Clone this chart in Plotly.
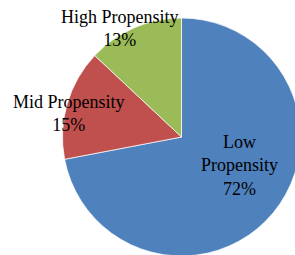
import plotly.graph_objects as go

labels = ["Low Propensity", "Mid Propensity", "High Propensity"]
values = [72, 15, 13]
colors = ["#4F81BD", "#C0504D", "#9BBB59"]
label_text = ["Low<br>Propensity", "Mid Propensity", "High Propensity"]

W, H = 302, 257

fig = go.Figure(go.Pie(
    labels=labels,
    values=values,
    sort=False,
    direction="clockwise",
    rotation=0,
    marker=dict(colors=colors, line=dict(color="white", width=0.7)),
    textinfo="none",
    hoverinfo="label+percent",
    showlegend=False,
    domain=dict(x=[62.5 / W, 300.5 / W], y=[1 / H, 239 / H]),
))

total = sum(values)
label_pos = [(240, 165), (69, 113.5), (120, 28.5)]
for txt, v, (px, py) in zip(label_text, values, label_pos):
    fig.add_annotation(
        x=px / W, y=1 - py / H, xref="paper", yref="paper",
        text=f"{txt}<br>{round(100 * v / total)}%",
        showarrow=False, xanchor="center", yanchor="middle",
        font=dict(family="Liberation Serif, Times New Roman, serif", size=18, color="black"),
    )

fig.update_layout(
    width=W, height=H,
    margin=dict(l=0, r=0, t=0, b=0),
    paper_bgcolor="white", plot_bgcolor="white",
)

fig.write_html(
    "out.html",
    config={"displayModeBar": False},
    post_script="document.body.style.margin='0';document.body.style.overflow='hidden';document.documentElement.style.overflow='hidden';",
)
